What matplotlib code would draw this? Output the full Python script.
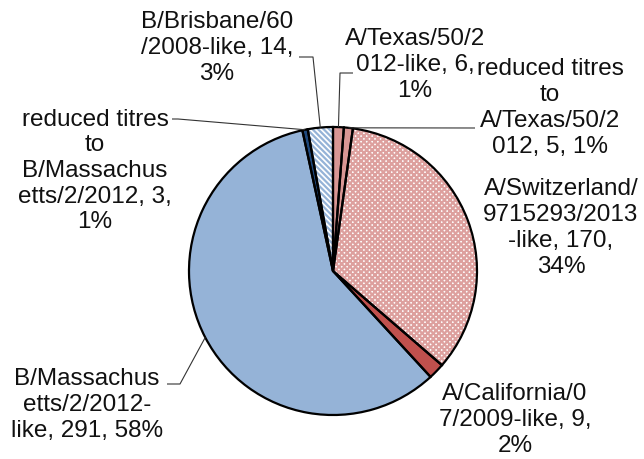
import matplotlib
matplotlib.use('Agg')
import matplotlib.pyplot as plt
import numpy as np

# ---- data ----
categories = [
    "A/Texas/50/2012-like",
    "reduced titres to A/Texas/50/2012",
    "A/Switzerland/9715293/2013-like",
    "A/California/07/2009-like",
    "B/Massachusetts/2/2012-like",
    "reduced titres to B/Massachusetts/2/2012",
    "B/Brisbane/60/2008-like",
]
values = [6, 5, 170, 9, 291, 3, 14]

# ---- styles ----
face_colors = ['#D99694', '#D99694', 'white', '#C0504D', '#95B3D7', '#1F497D', 'white']
hatches = [None, None, 'xxxxxx', None, None, None, '\\\\\\\\\\\\']
hatch_colors = [None, None, '#DDA09E', None, None, None, '#95B3D7']
line_lens = [[12, 12], [14, 2, 12], [14, 12, 11], [14, 15], [11, 12], [14, 2, 11, 15], [13, 15]]
# label centres in pixel coords (x, y from top)
label_pos = [(415, 65), (550, 108), (561, 228), (515, 420), (87, 405), (95, 171), (217, 48)]
leader_start = [(353, 73), (475, 128), None, None, (167, 384), (172, 119), (299, 57)]
leader_elbow = [(340, 73), None, None, None, (180, 384), (178, 119), (313, 57)]

W, H = 644, 459
CX, CY, R = 333, 271, 144

plt.rcParams['hatch.linewidth'] = 1.6

fig = plt.figure(figsize=(W / 100, H / 100), dpi=100)
ax = fig.add_axes([0, 0, 1, 1])

total = sum(values)
pcts = [int(round(v / total * 100)) for v in values]


def wrap(s, lens):
    out = []
    for n in lens:
        s = s.lstrip()
        out.append(s[:n])
        s = s[n:]
    out.append(s.strip())
    return '\n'.join(out)


# hatch layer
wedges_h, _ = ax.pie(values, startangle=90, counterclock=False, radius=R,
                     center=(CX, H - CY), colors=face_colors,
                     wedgeprops=dict(linewidth=0))
for w, h, hc in zip(wedges_h, hatches, hatch_colors):
    if h:
        w.set_hatch(h)
        w.set_edgecolor(hc)
# outline layer
wedges, _ = ax.pie(values, startangle=90, counterclock=False, radius=R,
                   center=(CX, H - CY), colors=['none'] * len(values),
                   wedgeprops=dict(linewidth=1.6, edgecolor='black', facecolor='none'))

for i, (cat, v, p) in enumerate(zip(categories, values, pcts)):
    txt = wrap(f"{cat}, {v}, {p}%", line_lens[i])
    x, y = label_pos[i]
    ax.text(x, H - y, txt, ha='center', va='center', multialignment='center',
            fontsize=17.5, family='Liberation Sans', color='#111111', linespacing=1.22)
    if leader_start[i] is not None:
        w = wedges[i]
        mid = np.deg2rad((w.theta1 + w.theta2) / 2)
        ax_ = CX + R * np.cos(mid)
        ay_ = (H - CY) + R * np.sin(mid)
        pts = [leader_start[i]]
        if leader_elbow[i] is not None:
            pts.append(leader_elbow[i])
        xs = [pt[0] for pt in pts] + [ax_]
        ys = [H - pt[1] for pt in pts] + [ay_]
        ax.plot(xs, ys, color='#333333', linewidth=0.8, solid_capstyle='butt')

ax.set_xlim(0, W)
ax.set_ylim(0, H)
ax.set_aspect('auto')
ax.axis('off')
fig.savefig('out.png', dpi=100)
